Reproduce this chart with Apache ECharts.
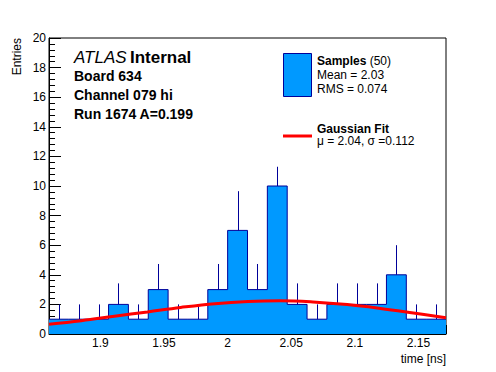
<!DOCTYPE html>
<html><head><meta charset="utf-8">
<script src="https://cdn.jsdelivr.net/npm/echarts@6/dist/echarts.min.js"></script>
<style>html,body{margin:0;padding:0;background:#fff}#c{width:496px;height:372px}</style>
</head><body><div id="c"></div>
<script>
// ---- data ----
const xMin = 1.8596, xMax = 2.1716;          // histogram range (20 bins)
const counts = [1,1,1,2,1,3,1,1,3,7,3,10,2,1,2,2,2,4,1,1];
const errTop = [2,2,2,3.42,2,4.73,2,2,4.73,9.65,4.73,11.3,3.42,2,3.42,3.42,3.42,6.0,2,2];
const fitX = [1.8596,1.885,1.911,1.937,1.963,1.99,2.016,2.041,2.067,2.094,2.12,2.146,2.1716];
const fitY = [0.66,0.90,1.20,1.49,1.79,2.05,2.20,2.25,2.17,1.99,1.73,1.42,1.10];
const xTickLabels = ['1.9','1.95','2','2.05','2.1','2.15'];
const infoLines = ['Board 634','Channel 079 hi','Run 1674 A=0.199'];

const FONT = '"Liberation Sans", Arial, Helvetica, sans-serif';
const nBins = counts.length;
const binW = (xMax - xMin) / nBins;
const stepData = counts.map((c, i) => [xMin + i * binW, c]);
stepData.push([xMax, counts[nBins - 1]]);
const errData = counts.map((c, i) => [xMin + (i + 0.5) * binW, c, errTop[i]]);
const fitData = fitX.map((x, i) => [x, fitY[i]]);

function xLabel(v) {
  const s = parseFloat(v.toFixed(2)).toString();
  return xTickLabels.indexOf(s) >= 0 && Math.abs(v / 0.05 - Math.round(v / 0.05)) < 1e-6 ? s : '';
}

const chart = echarts.init(document.getElementById('c'), null, {renderer: 'svg'});
chart.setOption({
  animation: false,
  backgroundColor: '#fff',
  grid: {left: 49, right: 50, top: 38, bottom: 38, show: true, borderColor: '#000', borderWidth: 1,
         backgroundColor: 'transparent', containLabel: false, outerBoundsMode: 'none'},
  xAxis: [{
    type: 'value', min: xMin, max: xMax, minInterval: 0.05, maxInterval: 0.05, splitNumber: 6,
    axisLine: {show: true, lineStyle: {color: '#000', width: 1}},
    axisTick: {show: true, inside: true, length: 9, lineStyle: {color: '#000'}},
    axisLabel: {show: true, margin: 3, color: '#000', fontSize: 12, lineHeight: 12, fontFamily: FONT, formatter: xLabel},
    splitLine: {show: false}
  }, {
    type: 'value', min: xMin, max: xMax, minInterval: 0.01, maxInterval: 0.01, splitNumber: 30,
    position: 'bottom',
    axisLine: {show: false},
    axisTick: {show: true, inside: true, length: 4.5, lineStyle: {color: '#000'}},
    axisLabel: {show: false}, splitLine: {show: false}
  }],
  yAxis: {
    type: 'value', min: 0, max: 20, interval: 2,
    axisLine: {show: true, lineStyle: {color: '#000', width: 1}},
    axisTick: {show: true, inside: true, length: 12, lineStyle: {color: '#000'}},
    minorTick: {show: true, splitNumber: 5, length: 6, lineStyle: {color: '#000'}},
    axisLabel: {show: true, margin: 3, color: '#000', fontSize: 12, fontFamily: FONT},
    splitLine: {show: false}, minorSplitLine: {show: false},
    name: 'Entries', nameLocation: 'end', nameGap: 0, nameRotate: 90,
    nameTextStyle: {color: '#000', fontSize: 12, fontFamily: FONT, align: 'right', verticalAlign: 'bottom', padding: [0, 0, 26, 0]}
  },
  series: [{
    type: 'line', name: 'Samples', step: 'end', data: stepData, xAxisIndex: 0,
    showSymbol: false, symbol: 'none',
    lineStyle: {color: '#000099', width: 1},
    areaStyle: {color: '#0099ff', opacity: 1},
    z: 2
  }, {
    type: 'custom', name: 'errors', data: errData, xAxisIndex: 0,
    encode: {x: 0, y: [1, 2]},
    renderItem: (params, api) => {
      const p1 = api.coord([api.value(0), api.value(1)]);
      const p2 = api.coord([api.value(0), api.value(2)]);
      const x = Math.round(p1[0]) + 0.5;
      return {type: 'line', shape: {x1: x, y1: p1[1], x2: x, y2: p2[1]},
              style: {stroke: '#000099', lineWidth: 1}};
    },
    z: 3
  }, {
    type: 'line', name: 'Gaussian Fit', data: fitData, xAxisIndex: 0, smooth: 0.4,
    showSymbol: false, symbol: 'none', lineStyle: {color: '#ff0000', width: 3}, z: 4
  }],
  graphic: [
    {type: 'text', x: 446, y: 358.5, style: {text: 'time [ns]', font: '12px ' + FONT, fill: '#000', align: 'right', verticalAlign: 'middle', lineHeight: 10}},
    {type: 'text', x: 74, y: 57.7, style: {text: '{a|ATLAS} {b|Internal}', verticalAlign: 'middle', fill: '#000',
      rich: {a: {fontStyle: 'italic', fontSize: 17, fontFamily: FONT, fill: '#000'},
             b: {fontWeight: 'bold', fontSize: 17, fontFamily: FONT, fill: '#000'}}}},
    {type: 'text', x: 74, y: 76, style: {text: infoLines[0], font: 'bold 14px ' + FONT, fill: '#000', verticalAlign: 'middle', lineHeight: 15}},
    {type: 'text', x: 74, y: 95.4, style: {text: infoLines[1], font: 'bold 14px ' + FONT, fill: '#000', verticalAlign: 'middle', lineHeight: 15}},
    {type: 'text', x: 74, y: 114.4, style: {text: infoLines[2], font: 'bold 14px ' + FONT, fill: '#000', verticalAlign: 'middle', lineHeight: 15}},
    {type: 'rect', shape: {x: 283.5, y: 53.5, width: 28, height: 43}, style: {fill: '#0099ff', stroke: '#000099', lineWidth: 1}},
    {type: 'text', x: 317, y: 61, style: {text: '{b|Samples} (50)', verticalAlign: 'middle', fill: '#000', font: '12px ' + FONT, lineHeight: 12,
      rich: {b: {fontWeight: 'bold', fontSize: 12, fontFamily: FONT, fill: '#000', lineHeight: 12}}}},
    {type: 'text', x: 317, y: 75.3, style: {text: 'Mean = 2.03', font: '12px ' + FONT, fill: '#000', verticalAlign: 'middle', lineHeight: 12}},
    {type: 'text', x: 317, y: 89.3, style: {text: 'RMS = 0.074', font: '12px ' + FONT, fill: '#000', verticalAlign: 'middle', lineHeight: 12}},
    {type: 'line', shape: {x1: 283, y1: 136, x2: 312, y2: 136}, style: {stroke: '#ff0000', lineWidth: 3}},
    {type: 'text', x: 317, y: 128.7, style: {text: 'Gaussian Fit', font: 'bold 12px ' + FONT, fill: '#000', verticalAlign: 'middle', lineHeight: 12}},
    {type: 'text', x: 317, y: 141.3, style: {text: 'μ = 2.04, σ =0.112', font: '12px ' + FONT, fill: '#000', verticalAlign: 'middle', lineHeight: 12}}
  ]
});
</script></body></html>
